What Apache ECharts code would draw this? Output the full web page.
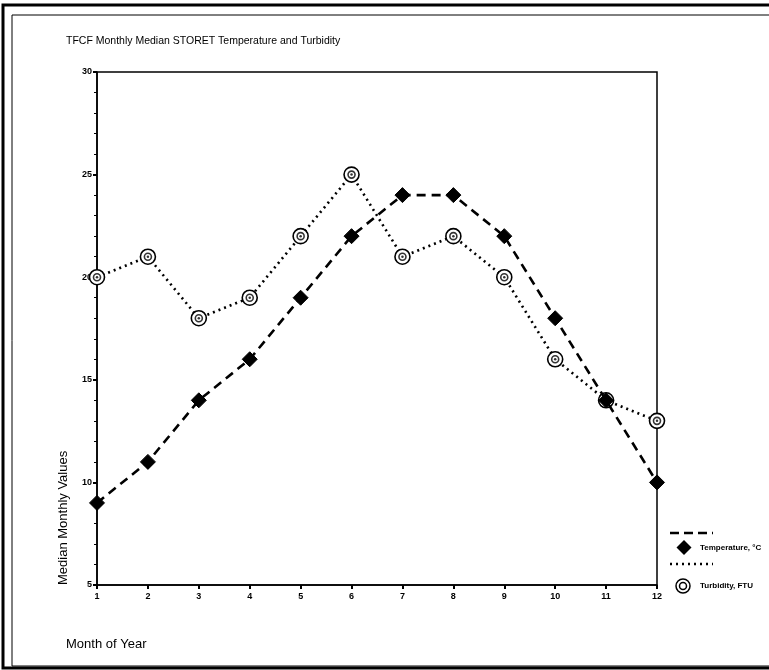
<!DOCTYPE html>
<html>
<head>
<meta charset="utf-8">
<script src="https://cdn.jsdelivr.net/npm/echarts@6/dist/echarts.min.js"></script>
<style>
  html, body { margin: 0; padding: 0; background: #fff; }
  #chart { width: 769px; height: 670px; }
</style>
</head>
<body>
<div id="chart"></div>
<script>
// Monthly medians, TFCF STORET records
const months = [1, 2, 3, 4, 5, 6, 7, 8, 9, 10, 11, 12];
const temperature = [9, 11, 14, 16, 19, 22, 24, 24, 22, 18, 14, 10];
const turbidity = [20, 21, 18, 19, 22, 25, 21, 22, 20, 16, 14, 13];
const yTicks = [5, 10, 15, 20, 25, 30];

const tempData = months.map((m, i) => [m, temperature[i]]);
const turbData = months.map((m, i) => [m, turbidity[i]]);

const FONT = 'Liberation Sans, Arial, sans-serif';
const chart = echarts.init(document.getElementById('chart'), null, { renderer: 'canvas' });

chart.setOption({
  backgroundColor: '#fff',
  animation: false,
  title: {
    text: 'TFCF Monthly Median STORET Temperature and Turbidity',
    left: 61, top: 31,
    textStyle: { fontFamily: FONT, fontSize: 10.5, fontWeight: 'normal', color: '#000' }
  },
  grid: {
    left: 97, right: 112, top: 72, bottom: 85,
    show: true, borderColor: '#000', borderWidth: 1.5, backgroundColor: 'transparent'
  },
  xAxis: {
    type: 'value', min: 1, max: 12, interval: 1,
    name: 'Month of Year', nameLocation: 'start',
    nameGap: 0,
    nameTextStyle: { fontFamily: FONT, fontSize: 13, color: '#000', align: 'left', verticalAlign: 'top', padding: [53, 0, 0, -31] },
    axisLine: { show: true, lineStyle: { color: '#000', width: 1.5 } },
    axisTick: { show: true, inside: false, length: 4, lineStyle: { color: '#000', width: 2 } },
    axisLabel: { fontFamily: FONT, fontSize: 9, fontWeight: 'bold', color: '#000', margin: 7 },
    splitLine: { show: false }
  },
  yAxis: {
    type: 'value', min: yTicks[0], max: yTicks[yTicks.length - 1], interval: 5,
    name: 'Median Monthly Values', nameLocation: 'start',
    nameRotate: 90, nameGap: 0,
    nameTextStyle: { fontFamily: FONT, fontSize: 13, color: '#000', align: 'left', verticalAlign: 'bottom', padding: [0, 0, 27, 0] },
    axisLine: { show: true, lineStyle: { color: '#000', width: 1.5 } },
    axisTick: { show: true, inside: false, length: 4, lineStyle: { color: '#000', width: 2 } },
    minorTick: { show: true, splitNumber: 5, length: 3, lineStyle: { color: '#000', width: 1 } },
    axisLabel: { fontFamily: FONT, fontSize: 9, fontWeight: 'bold', color: '#000', margin: 5 },
    splitLine: { show: false },
    minorSplitLine: { show: false }
  },
  series: [
    {
      name: 'Turbidity, FTU',
      type: 'line',
      data: turbData,
      symbol: 'circle', symbolSize: 15,
      itemStyle: { color: '#fff', borderColor: '#000', borderWidth: 1.6 },
      lineStyle: { color: '#000', width: 2.6, type: [2, 4] },
      z: 2
    },
    {
      name: 'Turbidity inner ring',
      type: 'scatter',
      data: turbData,
      symbol: 'circle', symbolSize: 7,
      itemStyle: { color: '#fff', borderColor: '#000', borderWidth: 1.6 },
      z: 3, silent: true
    },
    {
      name: 'Turbidity centre',
      type: 'scatter',
      data: turbData,
      symbol: 'circle', symbolSize: 2.5,
      itemStyle: { color: '#000' },
      z: 3, silent: true
    },
    {
      name: 'Temperature, °C',
      type: 'line',
      data: tempData,
      symbol: 'diamond', symbolSize: [15, 15],
      itemStyle: { color: '#000', borderColor: '#000' },
      lineStyle: { color: '#000', width: 2.6, type: [9, 6] },
      z: 4
    }
  ],
  graphic: [
    // page frame
    { type: 'rect', shape: { x: 3, y: 5, width: 800, height: 663 }, style: { fill: 'none', stroke: '#000', lineWidth: 3 }, silent: true },
    { type: 'rect', shape: { x: 12, y: 15, width: 800, height: 651 }, style: { fill: 'none', stroke: '#000', lineWidth: 1 }, silent: true },
    // legend: temperature
    { type: 'line', shape: { x1: 670, y1: 533, x2: 713, y2: 533 }, style: { stroke: '#000', lineWidth: 2.6, lineDash: [9, 5] }, silent: true },
    { type: 'polygon', shape: { points: [[684, 540], [691.5, 547.5], [684, 555], [676.5, 547.5]] }, style: { fill: '#000' }, silent: true },
    { type: 'text', style: { x: 700, y: 548, text: 'Temperature, °C', font: 'bold 8px ' + FONT, fill: '#000', verticalAlign: 'middle' }, silent: true },
    // legend: turbidity
    { type: 'line', shape: { x1: 670, y1: 564, x2: 713, y2: 564 }, style: { stroke: '#000', lineWidth: 2.4, lineDash: [2, 4] }, silent: true },
    { type: 'circle', shape: { cx: 683, cy: 586, r: 7 }, style: { fill: '#fff', stroke: '#000', lineWidth: 1.5 }, silent: true },
    { type: 'circle', shape: { cx: 683, cy: 586, r: 3.5 }, style: { fill: '#fff', stroke: '#000', lineWidth: 1.5 }, silent: true },
    { type: 'text', style: { x: 700, y: 586, text: 'Turbidity, FTU', font: 'bold 8px ' + FONT, fill: '#000', verticalAlign: 'middle' }, silent: true }
  ]
});
</script>
</body>
</html>
